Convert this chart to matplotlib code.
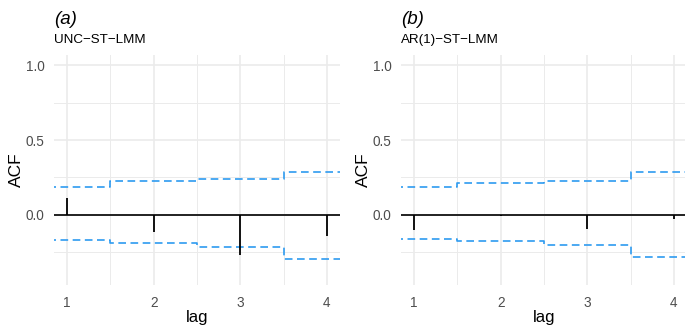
import matplotlib
matplotlib.use("Agg")
import matplotlib.pyplot as plt
import numpy as np

plt.rcParams['font.family'] = ['Liberation Sans', 'DejaVu Sans']

lags = [1, 2, 3, 4]

# panel (a): UNC-ST-LMM
acf_a = [0.11, -0.115, -0.27, -0.14]
upper_a = [0.183, 0.227, 0.24, 0.287]
lower_a = [-0.167, -0.187, -0.213, -0.293]

# panel (b): AR(1)-ST-LMM
acf_b = [-0.10, -0.008, -0.097, -0.03]
upper_b = [0.187, 0.213, 0.227, 0.285]
lower_b = [-0.164, -0.177, -0.20, -0.282]

tags = ["(a)", "(b)"]
titles = ["UNC\u2212ST\u2212LMM", "AR(1)\u2212ST\u2212LMM"]
yticks = [0.0, 0.5, 1.0]
ytick_labels = ["0.0", "0.5", "1.0"]

W, H = 685, 326
fig = plt.figure(figsize=(W / 100, H / 100), dpi=100)

panel_lefts = [54, 401]
panel_w = 286
panel_top, panel_bot = 55, 285

grid_col = "#EBEBEB"
band_col = "#2E9BF0"
text_col = "#4D4D4D"

panels = [(acf_a, upper_a, lower_a), (acf_b, upper_b, lower_b)]
for i, (acf, up, lo) in enumerate(panels):
    left = panel_lefts[i]
    ax = fig.add_axes([left / W, (H - panel_bot) / H, panel_w / W,
                       (panel_bot - panel_top) / H])
    ax.set_xlim(0.85, 4.15)
    ax.set_ylim(-0.47, 1.07)
    for s in ax.spines.values():
        s.set_visible(False)
    ax.set_facecolor("white")

    # grid: major and minor lines
    for x in lags:
        ax.axvline(x, color=grid_col, lw=1.2, zorder=0)
    for x in [1.5, 2.5, 3.5]:
        ax.axvline(x, color=grid_col, lw=0.7, zorder=0)
    for y in yticks:
        ax.axhline(y, color=grid_col, lw=1.2, zorder=0)
    for y in [-0.25, 0.25, 0.75]:
        ax.axhline(y, color=grid_col, lw=0.7, zorder=0)

    # step bounds, centered on each lag
    edges = [0.5] + [l + 0.5 for l in lags]
    for band in (up, lo):
        xs, ys = [], []
        for k, v in enumerate(band):
            xs += [edges[k], edges[k + 1]]
            ys += [v, v]
        ax.plot(xs, ys, color=band_col, lw=1.2, dashes=(4.6, 2.7), zorder=2)

    ax.axhline(0, color="black", lw=1.2, zorder=3)
    ax.vlines(lags, 0, acf, color="black", lw=1.3, zorder=3)

    ax.set_xticks(lags)
    ax.set_xticklabels([str(l) for l in lags])
    ax.set_yticks(yticks)
    ax.set_yticklabels(ytick_labels)
    ax.tick_params(length=0, colors=text_col, labelsize=9.8)
    ax.tick_params(axis="x", pad=8)
    ax.tick_params(axis="y", pad=7)
    ax.set_xlabel("lag", fontsize=12, labelpad=0)
    ax.set_ylabel("ACF", fontsize=12.5, labelpad=1)

    fig.text((left + 0) / W, 1 - 20 / H, tags[i], fontsize=13.5, style="italic",
             va="center", ha="left")
    fig.text((left + 0) / W, 1 - 40 / H, titles[i], fontsize=9.6,
             va="center", ha="left")

fig.savefig("out.png", dpi=100)
